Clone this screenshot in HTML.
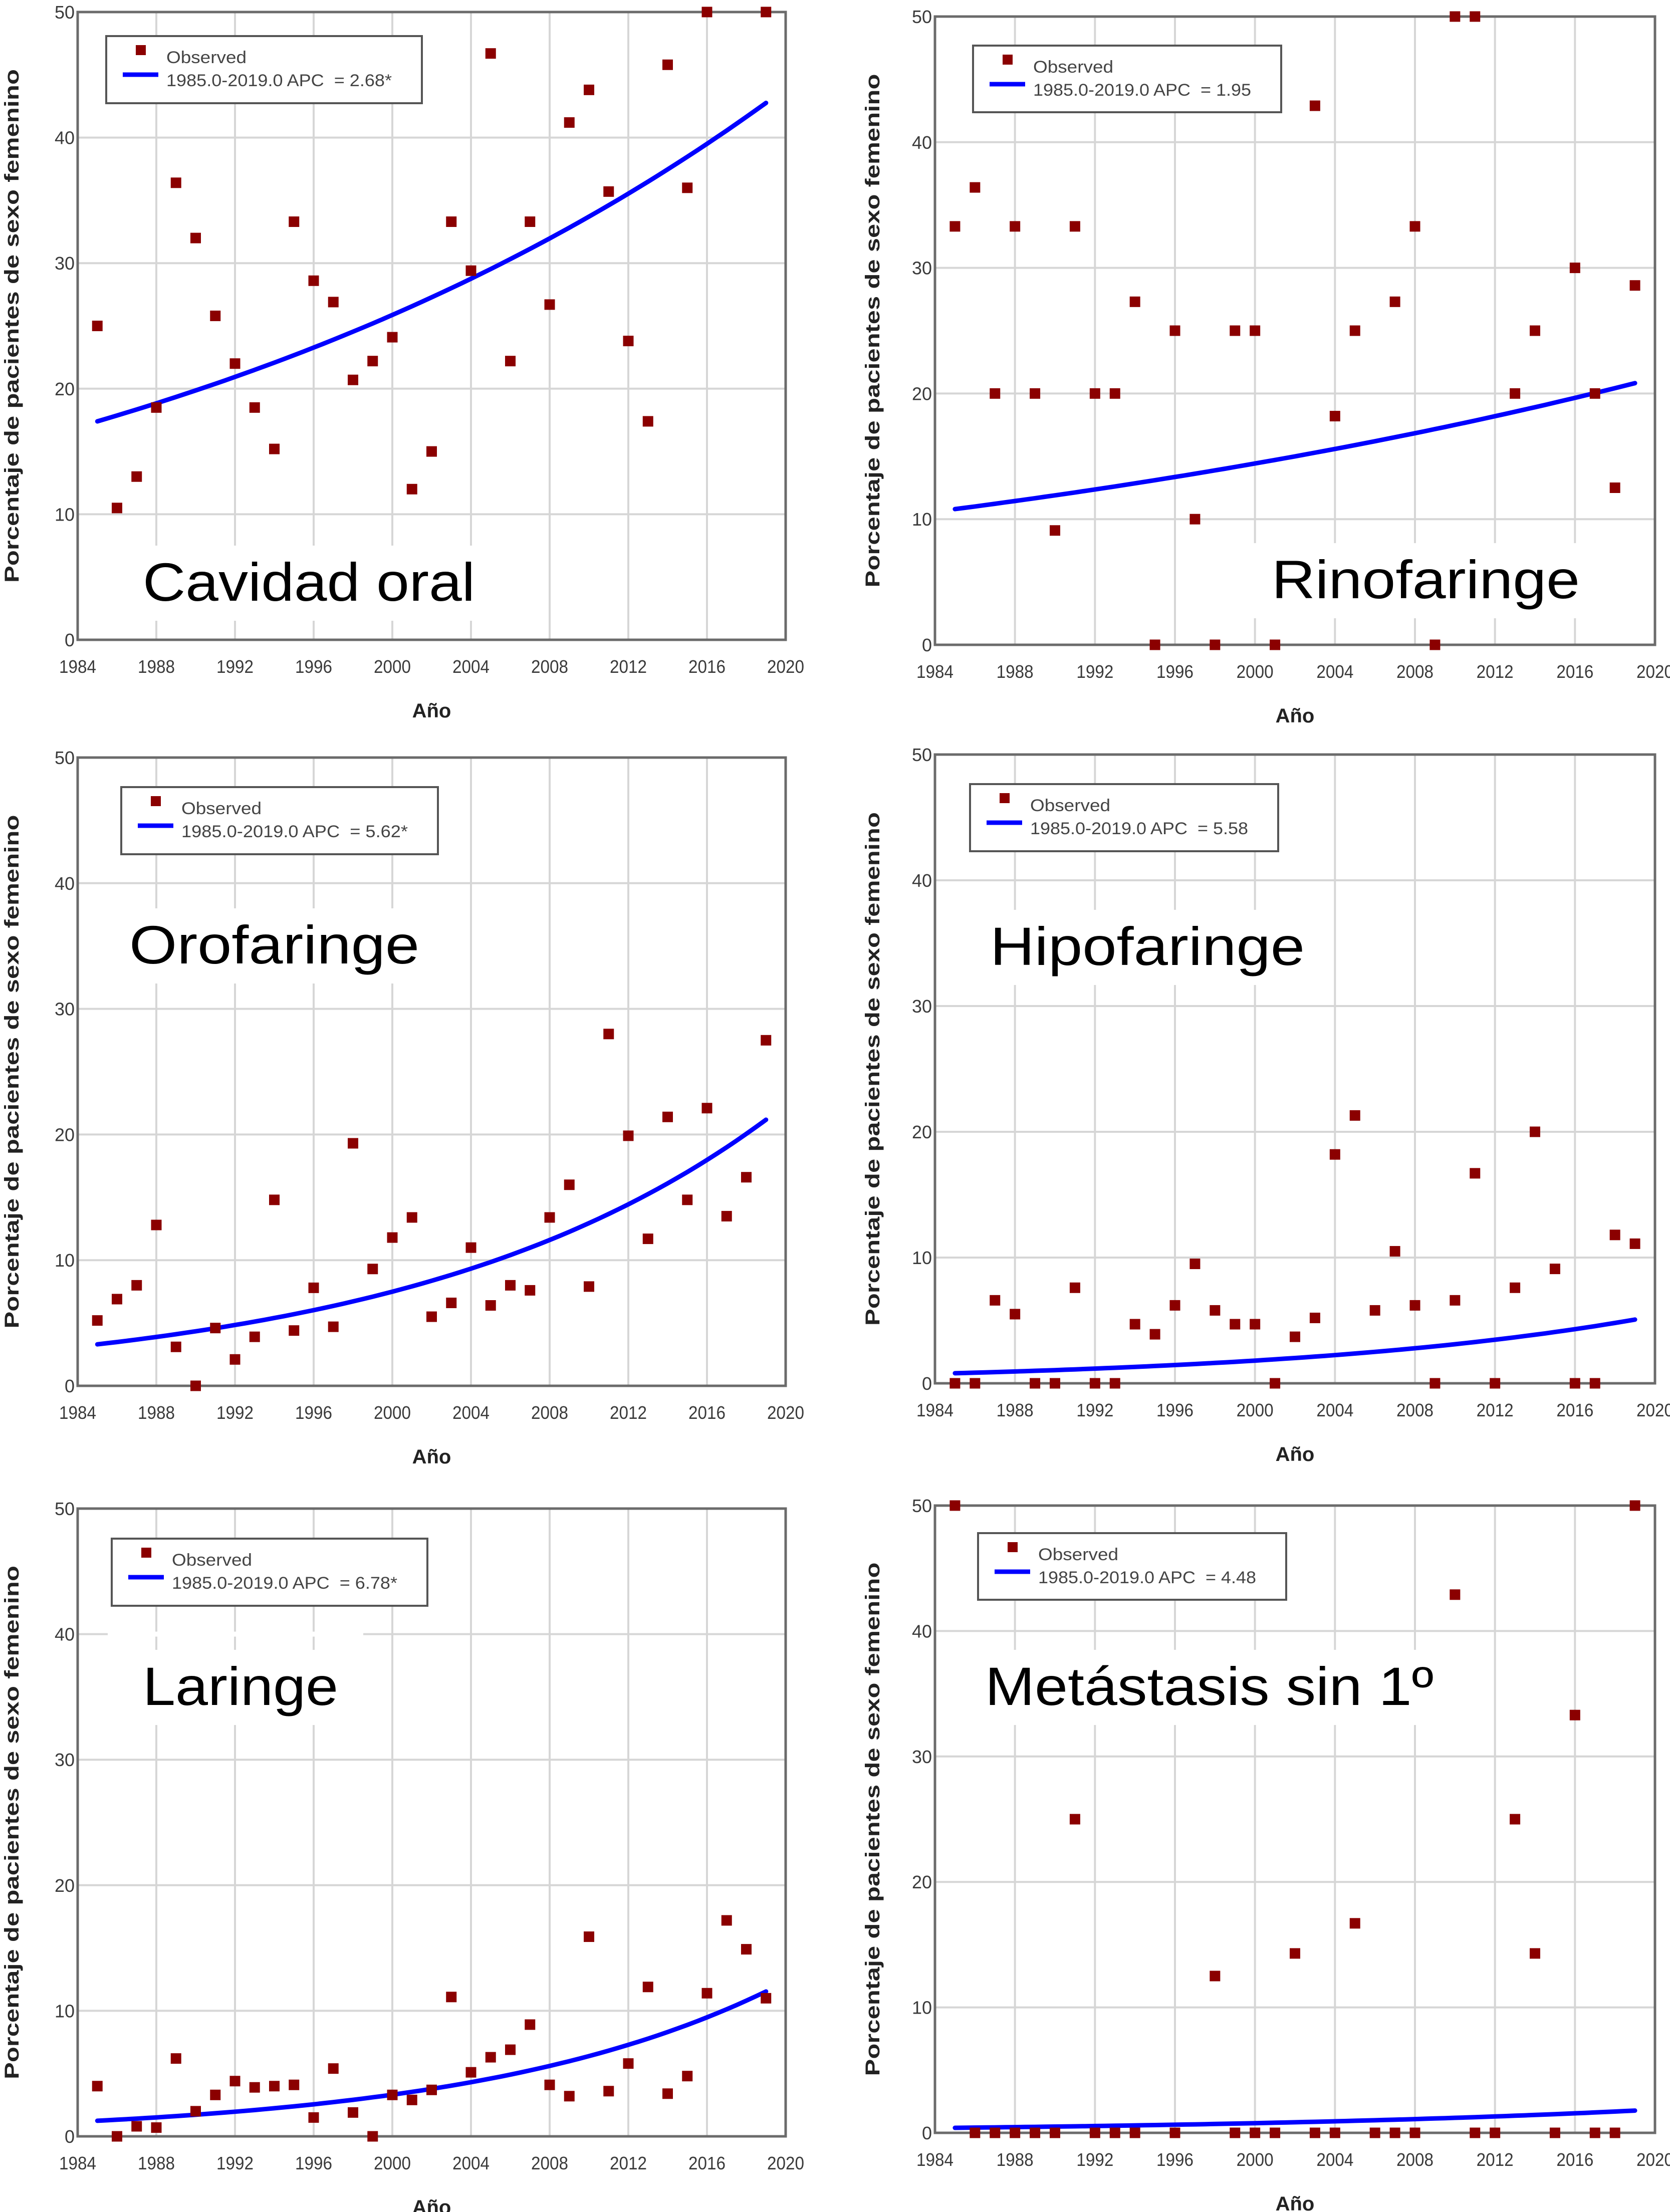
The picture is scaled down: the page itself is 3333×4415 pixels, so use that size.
<!DOCTYPE html>
<html><head><meta charset="utf-8">
<style>
html,body{margin:0;padding:0;background:#fff;}
svg{display:block;}
text{font-family:"Liberation Sans",sans-serif;}
</style></head>
<body>
<svg id="fig" xmlns="http://www.w3.org/2000/svg" width="3333" height="4415" viewBox="0 0 3333 4415">
<rect x="0" y="0" width="3333" height="4415" fill="#fff"/>
</svg>
<script>
// ---- data ----
const years = [1985,1986,1987,1988,1989,1990,1991,1992,1993,1994,1995,1996,1997,1998,1999,2000,2001,2002,2003,2004,2005,2006,2007,2008,2009,2010,2011,2012,2013,2014,2015,2016,2017,2018,2019];
const xTicks = [1984,1988,1992,1996,2000,2004,2008,2012,2016,2020];
const yTicks = [0,10,20,30,40,50];
const titles = ["Cavidad oral","Rinofaringe","Orofaringe","Hipofaringe","Laringe","Metástasis sin 1º"];
const apcLabels = ["2.68*","1.95","5.62*","5.58","6.78*","4.48"];
const apcValues = [2.68,1.95,5.62,5.58,6.78,4.48];
const fitStart = [17.4,10.8,3.3,0.8,1.24,0.4];
const cavidadObs = [25,10.5,13,18.5,36.4,32,25.8,22,18.5,15.2,33.3,28.6,26.9,20.7,22.2,24.1,12,15,33.3,29.4,46.7,22.2,33.3,26.7,41.2,43.8,35.7,23.8,17.4,45.8,36,50,null,null,50];
const rinoObs = [33.3,36.4,20,33.3,20,9.1,33.3,20,20,27.3,0,25,10,0,25,25,0,null,42.9,18.2,25,null,27.3,33.3,0,50,50,null,20,25,null,30,20,12.5,28.6];
const oroObs = [5.2,6.9,8.0,12.8,3.1,0,4.6,2.1,3.9,14.8,4.4,7.8,4.7,19.3,9.3,11.8,13.4,5.5,6.6,11.0,6.4,8.0,7.6,13.4,16.0,7.9,28.0,19.9,11.7,21.4,14.8,22.1,13.5,16.6,27.5];
const hipoObs = [0,0,6.6,5.5,0,0,7.6,0,0,4.7,3.9,6.2,9.5,5.8,4.7,4.7,0,3.7,5.2,18.2,21.3,5.8,10.5,6.2,0,6.6,16.7,0,7.6,20,9.1,0,0,11.8,11.1];
const larObs = [4.0,0,0.8,0.7,6.2,2.0,3.3,4.4,3.9,4.0,4.1,1.5,5.4,1.9,0,3.3,2.9,3.7,11.1,5.1,6.3,6.9,8.9,4.1,3.2,15.9,3.6,5.8,11.9,3.4,4.8,11.4,17.2,14.9,11.0];
const metaObs = [50,0,0,0,0,0,25,0,0,0,null,0,null,12.5,0,0,0,14.3,0,0,16.7,0,0,0,null,42.9,0,0,25,14.3,0,33.3,0,0,50];
const observed = [cavidadObs,rinoObs,oroObs,hipoObs,larObs,metaObs];

// ---- layout (pixels) ----
const panels = [
 {x0:155,x1:1568,top:24,bot:1277,ytx:24,leg:[57,48,630,134],tl:[285,1199,663]},
 {x0:1866,x1:3303,top:33,bot:1287,ytx:1742,leg:[76,58,615,133],tl:[2538,1194,615]},
 {x0:155,x1:1568,top:1512,bot:2766,ytx:24,leg:[87,59,632,134],tl:[258,1923,579]},
 {x0:1866,x1:3303,top:1506,bot:2761,ytx:1742,leg:[70,59,615,134],tl:[1976,1926,628]},
 {x0:155,x1:1568,top:3011,bot:4264,ytx:24,leg:[68,60,630,134],tl:[285,3403,390]},
 {x0:1866,x1:3303,top:3005,bot:4257,ytx:1742,leg:[86,55,615,133],tl:[1966,3403,895]}
];
const NS="http://www.w3.org/2000/svg";
const svg=document.getElementById('fig');
function mk(tag,attrs,parent){const e=document.createElementNS(NS,tag);for(const k in attrs)e.setAttribute(k,attrs[k]);(parent||svg).appendChild(e);return e;}

panels.forEach((p,i)=>{
  const g=mk('g',{});
  
  
  const xs=t=>p.x0+(t-1984)/36*(p.x1-p.x0);
  const ys=v=>p.bot-v/50*(p.bot-p.top);
  // vertical grid
  xTicks.forEach(t=>{
    if(t===1984||t===2020)return;
    const l=mk('line',{x1:xs(t),x2:xs(t),y1:p.top,y2:p.bot,stroke:'#d6d6d6','stroke-width':4},g);
    
    
  });
  // title background
  const tb=mk('rect',{x:p.tl[0]-40,y:p.tl[1]-110,width:p.tl[2]+80,height:150,fill:'#fff'},g);
  
  
  // horizontal grid
  yTicks.forEach(v=>{
    if(v===0||v===50)return;
    const l=mk('line',{x1:p.x0,x2:p.x1,y1:ys(v),y2:ys(v),stroke:'#d6d6d6','stroke-width':4},g);
    
    
  });
  if(i===4){
    const cover=mk('rect',{x:p.x0+60,y:ys(40)-5,width:510,height:10,fill:'#fff'},g);
    
    
  }
  // title text
  const tt=mk('text',{x:p.tl[0],y:p.tl[1],'font-size':108,fill:'#000',textLength:p.tl[2],lengthAdjust:'spacingAndGlyphs'},g);
  tt.textContent=titles[i];
  
  
  // fitted line
  let d='';
  for(let k=0;k<=68;k++){const t=1985+k*0.5;const v=fitStart[i]*Math.pow(1+apcValues[i]/100,t-1985);d+=(k?'L':'M')+xs(t).toFixed(1)+' '+ys(v).toFixed(1);}
  const fl=mk('path',{d:d,fill:'none',stroke:'#0000ff','stroke-width':9,'stroke-linecap':'round'},g);
  
  
  // frame
  const fr=mk('rect',{x:p.x0,y:p.top,width:p.x1-p.x0,height:p.bot-p.top,fill:'none',stroke:'#6b6b6b','stroke-width':5},g);
  
  
  // points
  observed[i].forEach((v,k)=>{
    if(v===null)return;
    const r=mk('rect',{x:xs(years[k])-10.5,y:ys(v)-10.5,width:21,height:21,fill:'#8b0000'},g);
    
    
  });
  // x tick labels
  xTicks.forEach(t=>{
    const tx=mk('text',{x:xs(t),y:p.bot+66,'font-size':36,fill:'#3a3a3a','text-anchor':'middle',textLength:74,lengthAdjust:'spacingAndGlyphs'},g);
    tx.textContent=String(t);
    
    
  });
  // y tick labels
  yTicks.forEach(v=>{
    const ty=mk('text',{x:p.x0-6,y:ys(v)+13,'font-size':36,fill:'#3a3a3a','text-anchor':'end'},g);
    ty.textContent=String(v);
    
    
  });
  // x axis title
  const xa=mk('text',{x:(p.x0+p.x1)/2,y:p.bot+155,'font-size':40,'font-weight':'bold',fill:'#222','text-anchor':'middle'},g);
  xa.textContent='Año';
  
  
  // y axis title
  const cy=(p.top+p.bot)/2;
  const ya=mk('text',{x:p.ytx,y:cy,'font-size':40,'font-weight':'bold',fill:'#222','text-anchor':'middle','dominant-baseline':'central',transform:'rotate(-90 '+p.ytx+' '+cy+')',textLength:1025,lengthAdjust:'spacingAndGlyphs'},g);
  ya.textContent='Porcentaje de pacientes de sexo femenino';
  
  
  // legend
  const lx=p.x0+p.leg[0], ly=p.top+p.leg[1];
  const lg=mk('g',{},g);
  
  
  mk('rect',{x:lx,y:ly,width:p.leg[2],height:p.leg[3],fill:'#fff',stroke:'#555','stroke-width':4},lg);
  const lm=mk('rect',{x:lx+59,y:ly+18,width:20,height:20,fill:'#8b0000'},lg);
  
  
  const ll=mk('line',{x1:lx+33,x2:lx+104,y1:ly+77,y2:ly+77,stroke:'#0000ff','stroke-width':9},lg);
  
  
  const t1=mk('text',{x:lx+120,y:ly+54,'font-size':34,fill:'#444',textLength:160,lengthAdjust:'spacingAndGlyphs'},lg);
  t1.textContent='Observed';
  
  
  const t2=mk('text',{x:lx+120,y:ly+100,'font-size':34,fill:'#444',textLength:p.leg[2]-180,lengthAdjust:'spacingAndGlyphs'},lg);
  t2.textContent='1985.0-2019.0 APC\u00a0 = '+apcLabels[i];
  
  
});
</script>
</body></html>
